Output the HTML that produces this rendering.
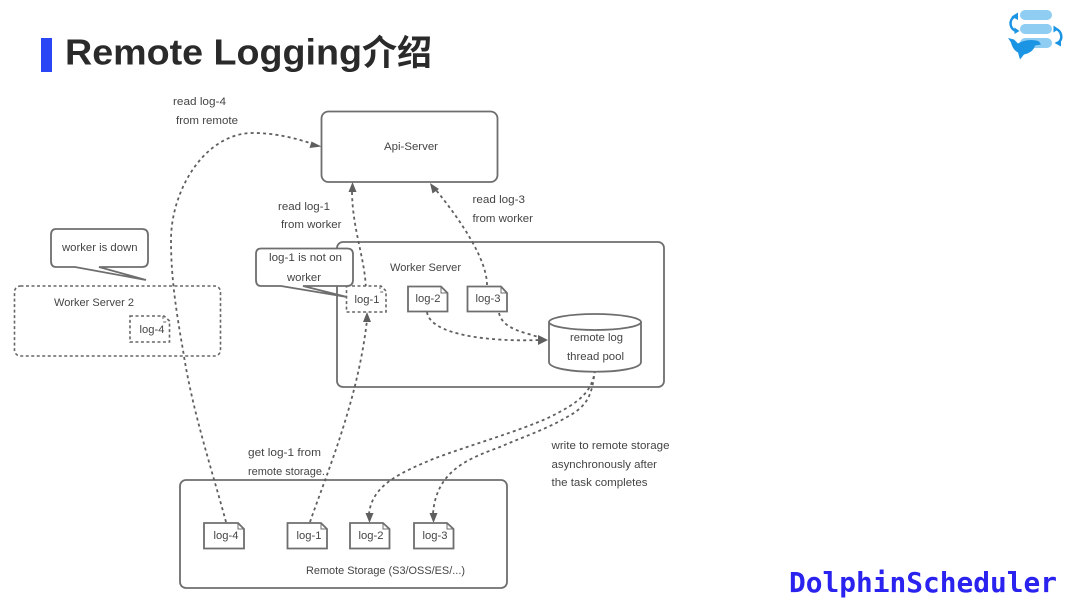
<!DOCTYPE html>
<html><head><meta charset="utf-8">
<style>
html,body{margin:0;padding:0;background:#fff;width:1080px;height:608px;overflow:hidden}
svg{display:block;filter:blur(.3px)}
.t{font-family:"Liberation Sans","Noto Sans CJK SC",sans-serif;font-size:11.2px;fill:#444}
.b{fill:none;stroke:#6e6e6e;stroke-width:1.8}
.w{fill:#fff;stroke:#6e6e6e;stroke-width:1.8}
.d{fill:none;stroke:#5f5f5f;stroke-width:1.8;stroke-dasharray:3 3.2}
.ds{fill:#fff;stroke:#666;stroke-width:1.6;stroke-dasharray:3 2.5}
.a{fill:#5f5f5f}
</style></head><body>
<svg width="1080" height="608" viewBox="0 0 1080 608" xmlns="http://www.w3.org/2000/svg">
<rect x="41" y="38" width="11" height="34" fill="#2b46f5"/>
<text x="65" y="64.500" textLength="297" lengthAdjust="spacingAndGlyphs" font-family="Liberation Sans,sans-serif" font-weight="700" font-size="36" fill="#2a2a2a">Remote Logging</text>
<text x="362" y="65" textLength="70" font-family="Noto Sans CJK SC,sans-serif" font-weight="700" font-size="35" fill="#2a2a2a">介绍</text>

<!-- logo -->
<rect x="1020" y="10" width="32" height="10" rx="5" fill="#8fcdf3"/>
<rect x="1020" y="24" width="32" height="10" rx="5" fill="#8fcdf3"/>
<rect x="1020" y="38" width="32" height="10" rx="5" fill="#8fcdf3"/>
<path d="M1014.500 16.500a8 8 0 0 0 1.500 14.500" fill="none" stroke="#1b94e4" stroke-width="2.500"/>
<path d="M1018 12.500l-6.500 4 6.500 3.500z M1014.500 27.500v6.500l5-3z" fill="#1b94e4"/>
<path d="M1056 29a8 8 0 0 1 2 14" fill="none" stroke="#1b94e4" stroke-width="2.500"/>
<path d="M1053.500 25.500v7l5-3.500z M1061 39.500l-6.500 3.500 6.500 3.500z" fill="#1b94e4"/>
<path d="M1008 38l6 1.500 4 4c5-3 14-5 21-2l2 3-6 1c-1 5-6 8-11 9l-4 5-2-7c-4-2-6-6-7-10z" fill="#1b94e4"/>

<text x="789" y="592" textLength="268" lengthAdjust="spacingAndGlyphs" font-family="DejaVu Sans Mono,monospace" font-weight="700" font-size="28" fill="#2a22ee">DolphinScheduler</text>

<!-- containers -->
<rect x="321.500" y="111.500" width="176" height="70.500" rx="7" class="b"/>
<text x="384" y="150" class="t" textLength="54" lengthAdjust="spacingAndGlyphs">Api-Server</text>

<rect x="337" y="242" width="327" height="145" rx="6" class="b"/>
<text x="390" y="271" class="t" textLength="71" lengthAdjust="spacingAndGlyphs">Worker Server</text>

<rect x="180" y="480" width="327" height="108" rx="6" class="b"/>
<text x="306" y="574" class="t" textLength="159" lengthAdjust="spacingAndGlyphs">Remote Storage (S3/OSS/ES/...)</text>

<rect x="14.500" y="286" width="206" height="70" rx="6" class="ds"/>
<text x="54" y="306" class="t" textLength="80" lengthAdjust="spacingAndGlyphs">Worker Server 2</text>

<!-- connectors -->
<path class="d" d="M226 522C212 470 192 410 183 350C174 300 171 270 171 240C171 190 205 133 253 133C275 133 295 138 313 144"/>
<path class="a" d="M321.500 146.500l-10-5-2 6.500z"/>

<path class="d" d="M366 293C366 260 352 230 352 190"/>
<path class="a" d="M352.500 182l-4 10h8z"/>

<path class="d" d="M487 285C487 260 462 222 436 190"/>
<path class="a" d="M430 183l2.500 10.500 6.500-4.500z"/>

<path class="d" d="M310 522C328 470 358 400 367 320"/>
<path class="a" d="M367 312l-4 10h8z"/>

<path class="d" d="M427 312C430 335 490 342 540 340"/>
<path class="a" d="M548 340l-10-5v10z"/>
<path class="d" d="M499 313C503 330 525 332 541 338"/>

<path class="d" d="M595 370C592 392 580 402 550 417C520 431 470 445 433 459C400 473 372 485 369 514"/>
<path class="a" d="M369.500 523l-4-10h8z"/>
<path class="d" d="M595 370C592 392 590 405 567 417C545 430 520 438 500 447C470 458 436 470 433 514"/>
<path class="a" d="M433.500 523l-4-10h8z"/>

<!-- cylinder -->
<path class="w" d="M549 322V362C549 375 641 375 641 362V322"/>
<ellipse cx="595" cy="322" rx="46" ry="8" class="w"/>
<text x="570" y="341" class="t" textLength="53" lengthAdjust="spacingAndGlyphs">remote log</text>
<text x="567" y="360" class="t" textLength="57" lengthAdjust="spacingAndGlyphs">thread pool</text>

<!-- docs -->
<path class="w" d="M408 286.500H441L447.500 293V311.500H408Z"/><path class="b" d="M441 286.500V293H447.500" style="stroke-width:1"/>
<text x="428" y="302" class="t" text-anchor="middle">log-2</text>
<path class="w" d="M467.500 286.500H501L507 293V311.500H467.500Z"/><path class="b" d="M501 286.500V293H507" style="stroke-width:1"/>
<text x="488" y="302" class="t" text-anchor="middle">log-3</text>

<path class="w" d="M204 523H238L244 529V548.500H204Z"/><path class="b" d="M238 523V529H244" style="stroke-width:1"/>
<text x="226" y="539" class="t" text-anchor="middle">log-4</text>
<path class="w" d="M287.500 523H321L327 529V548.500H287.500Z"/><path class="b" d="M321 523V529H327" style="stroke-width:1"/>
<text x="309" y="539" class="t" text-anchor="middle">log-1</text>
<path class="w" d="M350 523H383L389.500 529V548.500H350Z"/><path class="b" d="M383 523V529H389.500" style="stroke-width:1"/>
<text x="371" y="539" class="t" text-anchor="middle">log-2</text>
<path class="w" d="M414 523H447L453.500 529V548.500H414Z"/><path class="b" d="M447 523V529H453.500" style="stroke-width:1"/>
<text x="435" y="539" class="t" text-anchor="middle">log-3</text>

<path class="ds" d="M346.500 286H381L386 291V312H346.500Z"/><path class="d" d="M380 286V292H386" style="stroke-width:1"/>
<text x="367" y="303" class="t" text-anchor="middle">log-1</text>
<path class="ds" d="M130 316H164L169.500 321V342H130Z"/><path class="d" d="M163 316V322H169.500" style="stroke-width:1"/>
<text x="152" y="333" class="t" text-anchor="middle">log-4</text>

<!-- callouts -->
<path class="w" d="M56 229H142Q148 229 148 235V261Q148 267 142 267H99L146 280L75 267H56Q51 267 51 261V235Q51 229 56 229Z"/>
<text x="62" y="251" class="t" textLength="75.500" lengthAdjust="spacingAndGlyphs">worker is down</text>
<path class="w" d="M261 248.500H347Q353 248.500 353 254V280Q353 286 347 286H303L347 297L281 286H261Q256 286 256 280V254Q256 248.500 261 248.500Z"/>
<text x="269" y="261" class="t" textLength="73" lengthAdjust="spacingAndGlyphs">log-1 is not on</text>
<text x="287" y="281" class="t" textLength="34" lengthAdjust="spacingAndGlyphs">worker</text>

<!-- labels -->
<text x="173" y="105" class="t" textLength="53" lengthAdjust="spacingAndGlyphs">read log-4</text>
<text x="176" y="124" class="t" textLength="62" lengthAdjust="spacingAndGlyphs">from remote</text>
<text x="278" y="210" class="t" textLength="52" lengthAdjust="spacingAndGlyphs">read log-1</text>
<text x="281" y="228" class="t" textLength="60.500" lengthAdjust="spacingAndGlyphs">from worker</text>
<text x="472.500" y="203" class="t" textLength="52.500" lengthAdjust="spacingAndGlyphs">read log-3</text>
<text x="472.500" y="222" class="t" textLength="60.500" lengthAdjust="spacingAndGlyphs">from worker</text>
<text x="248" y="456" class="t" textLength="73" lengthAdjust="spacingAndGlyphs">get log-1 from</text>
<text x="248" y="475" class="t" textLength="77" lengthAdjust="spacingAndGlyphs">remote storage.</text>
<text x="551.500" y="449" class="t" textLength="118" lengthAdjust="spacingAndGlyphs">write to remote storage</text>
<text x="551.500" y="468" class="t" textLength="105.500" lengthAdjust="spacingAndGlyphs">asynchronously after</text>
<text x="551.500" y="486" class="t" textLength="96" lengthAdjust="spacingAndGlyphs">the task completes</text>
</svg>
</body></html>
